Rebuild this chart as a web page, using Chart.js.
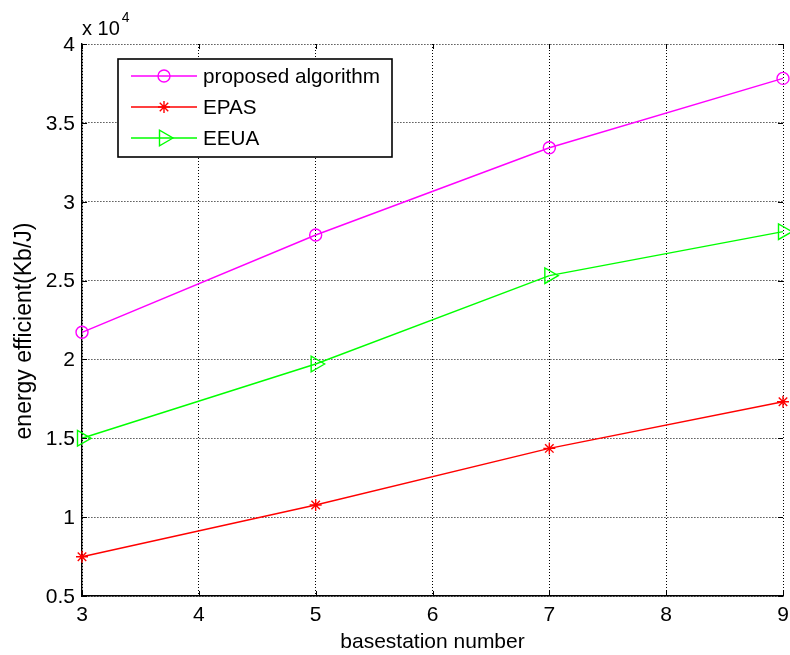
<!DOCTYPE html>
<html>
<head>
<meta charset="utf-8">
<title>energy efficient vs basestation number</title>
<script src="https://cdn.jsdelivr.net/npm/chart.js@4.4.0/dist/chart.umd.min.js"></script>
<style>
  html, body { margin: 0; padding: 0; background: #ffffff; }
  #wrap { width: 790px; height: 655px; }
</style>
</head>
<body>
<div id="wrap"><canvas id="chart" width="790" height="655"></canvas></div>
<script>
// ---- data (energy efficiency in Kb/J) ----
const basestations = [3, 5, 7, 9];
const proposedAlgorithm = [21720, 27890, 33420, 37820];
const epas = [7490, 10770, 14360, 17320];
const eeua = [15000, 19710, 25310, 28100];

const seriesNames = ['proposed algorithm', 'EPAS', 'EEUA'];
const xTickValues = [3, 4, 5, 6, 7, 8, 9];
const yTickValues = [5000, 10000, 15000, 20000, 25000, 30000, 35000, 40000];
const yExponent = 4;
const xTitle = 'basestation number';
const yTitle = 'energy efficient(Kb/J)';

const FONT = "'Liberation Sans', Arial, Helvetica, sans-serif";

const styles = [
  { color: '#ff00ff', pointStyle: 'circle', radius: 6, rotation: 0 },
  { color: '#ff0000', pointStyle: 'star', radius: 6, rotation: 0 },
  { color: '#00ff00', pointStyle: 'triangle', radius: 9, rotation: 90 }
];
const seriesValues = [proposedAlgorithm, epas, eeua];

const datasets = seriesValues.map((vals, i) => ({
  label: seriesNames[i],
  data: basestations.map((x, k) => ({ x: x, y: vals[k] })),
  borderColor: styles[i].color,
  backgroundColor: 'rgba(0,0,0,0)',
  pointBackgroundColor: 'rgba(0,0,0,0)',
  pointBorderColor: styles[i].color,
  pointStyle: styles[i].pointStyle,
  pointRadius: styles[i].radius,
  pointRotation: styles[i].rotation,
  pointBorderWidth: 1.4,
  borderWidth: 1.4,
  tension: 0,
  clip: false
}));

// marker drawing for the legend box
function drawMarker(ctx, style, x, y) {
  const r = style.radius;
  ctx.beginPath();
  if (style.pointStyle === 'circle') {
    ctx.arc(x, y, r, 0, Math.PI * 2);
  } else if (style.pointStyle === 'star') {
    ctx.moveTo(x - r, y); ctx.lineTo(x + r, y);
    ctx.moveTo(x, y - r); ctx.lineTo(x, y + r);
    const d = r * Math.SQRT1_2;
    ctx.moveTo(x - d, y - d); ctx.lineTo(x + d, y + d);
    ctx.moveTo(x - d, y + d); ctx.lineTo(x + d, y - d);
  } else if (style.pointStyle === 'triangle') {
    ctx.moveTo(x + r, y);
    ctx.lineTo(x - 0.5 * r, y + 0.866 * r);
    ctx.lineTo(x - 0.5 * r, y - 0.866 * r);
    ctx.closePath();
  }
  ctx.stroke();
}

const framePlugin = {
  id: 'frameExtras',
  afterDraw(chart) {
    const ctx = chart.ctx;
    const area = chart.chartArea;
    const xs = chart.scales.x, ys = chart.scales.y;
    ctx.save();

    // inward tick marks on all four sides
    ctx.strokeStyle = '#000';
    ctx.lineWidth = 1;
    const tl = 5;
    ctx.beginPath();
    xTickValues.forEach(v => {
      const px = Math.round(xs.getPixelForValue(v)) + 0.5;
      ctx.moveTo(px, area.bottom); ctx.lineTo(px, area.bottom - tl);
      ctx.moveTo(px, area.top); ctx.lineTo(px, area.top + tl);
    });
    yTickValues.forEach(v => {
      const py = Math.round(ys.getPixelForValue(v)) + 0.5;
      ctx.moveTo(area.left, py); ctx.lineTo(area.left + tl, py);
      ctx.moveTo(area.right, py); ctx.lineTo(area.right - tl, py);
    });
    ctx.stroke();

    // y axis title, rotated
    ctx.fillStyle = '#000';
    ctx.save();
    ctx.translate(25, 331);
    ctx.rotate(-Math.PI / 2);
    ctx.font = '23px ' + FONT;
    ctx.textAlign = 'center';
    ctx.textBaseline = 'middle';
    ctx.fillText(yTitle, 0, 0);
    ctx.restore();

    // exponent label above the y axis
    ctx.textBaseline = 'alphabetic';
    ctx.textAlign = 'left';
    ctx.font = '20px ' + FONT;
    const base = 'x 10';
    ctx.fillText(base, area.left, 35);
    const w = ctx.measureText(base).width;
    ctx.font = '14px ' + FONT;
    ctx.fillText(String(yExponent), area.left + w + 2, 22);

    // legend box
    const lx = 118, ly = 59, lw = 274, lh = 98;
    ctx.fillStyle = '#fff';
    ctx.fillRect(lx, ly, lw, lh);
    ctx.lineWidth = 1.6;
    ctx.strokeStyle = '#000';
    ctx.strokeRect(lx, ly, lw, lh);
    seriesNames.forEach((name, i) => {
      const y = 76 + i * 31;
      const st = styles[i];
      ctx.strokeStyle = st.color;
      ctx.lineWidth = 1.4;
      ctx.beginPath();
      ctx.moveTo(131, y); ctx.lineTo(197, y);
      ctx.stroke();
      drawMarker(ctx, st, 164, y);
      ctx.fillStyle = '#000';
      ctx.font = '20.7px ' + FONT;
      ctx.textBaseline = 'middle';
      ctx.fillText(name, 203, y + 1);
    });
    ctx.restore();
  }
};

new Chart(document.getElementById('chart'), {
  type: 'line',
  data: { datasets: datasets },
  options: {
    responsive: false,
    animation: false,
    events: [],
    layout: { autoPadding: false, padding: { left: 0, right: 7, top: 44, bottom: 0 } },
    plugins: { legend: { display: false }, tooltip: { enabled: false } },
    scales: {
      x: {
        type: 'linear',
        min: 3, max: 9,
        afterFit(scale) {
          scale.height = 59;
          scale.paddingLeft = 0;
          scale.paddingRight = 0;
        },
        afterBuildTicks(scale) { scale.ticks = xTickValues.map(v => ({ value: v })); },
        ticks: { color: '#000', font: { family: FONT, size: 21 }, padding: 7 },
        grid: { color: '#000', lineWidth: 1, drawTicks: false },
        border: { display: true, color: '#000', width: 1.4, dash: [1, 2] },
        title: {
          display: true, text: xTitle, color: '#000',
          font: { family: FONT, size: 21 }, padding: { top: 0, bottom: 0 }
        }
      },
      y: {
        type: 'linear',
        min: 5000, max: 40000,
        afterFit(scale) {
          scale.width = 82;
          scale.paddingTop = 0;
          scale.paddingBottom = 0;
        },
        afterBuildTicks(scale) { scale.ticks = yTickValues.map(v => ({ value: v })); },
        ticks: {
          color: '#000', font: { family: FONT, size: 21 }, padding: 7, labelOffset: 1,
          callback: v => String(v / Math.pow(10, yExponent))
        },
        grid: { color: '#000', lineWidth: 1, drawTicks: false },
        border: { display: true, color: '#000', width: 1.4, dash: [1, 2] },
        title: { display: false }
      }
    }
  },
  plugins: [framePlugin]
});
</script>
</body>
</html>
